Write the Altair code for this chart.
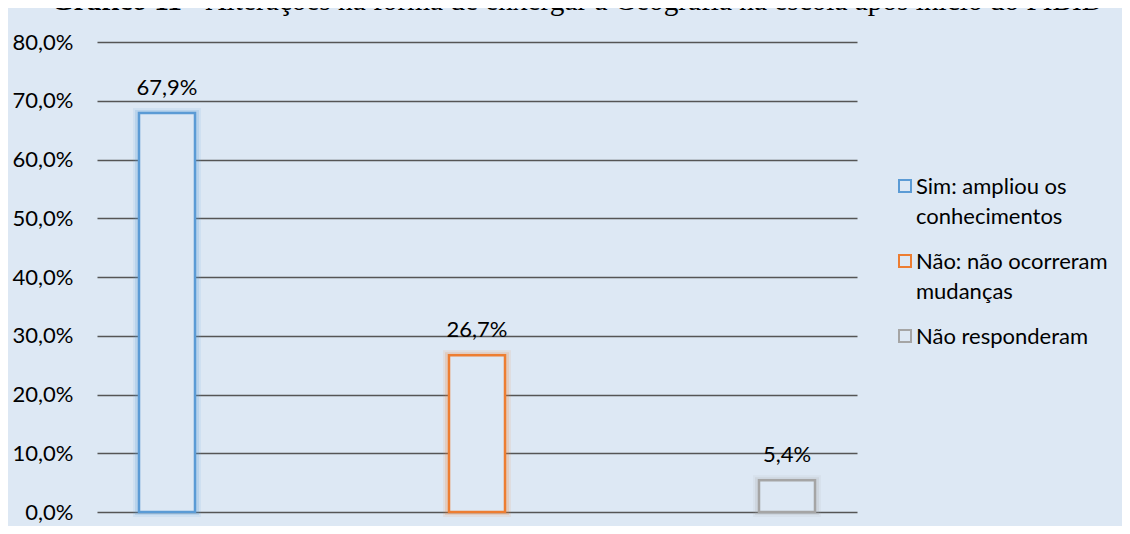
import altair as alt
import pandas as pd

categories = ["Sim: ampliou os conhecimentos", "Não: não ocorreram mudanças", "Não responderam"]
values = [67.9, 26.7, 5.4]
value_labels = ["67,9%", "26,7%", "5,4%"]
colors = ["#5b9bd5", "#ed7d31", "#a5a5a5"]
legend_lines = [["Sim: ampliou os", "conhecimentos"], ["Não: não ocorreram", "mudanças"], ["Não responderam"]]
y_ticks = [0, 10, 20, 30, 40, 50, 60, 70, 80]
title_bold = "Gráfico 11"
title_rest = "- Alterações na forma de enxergar a Geografia na escola após início do PIBID"

bg = "#dde8f4"
font = "Lato"
fs = 22
title_font = "Liberation Serif"
title_fs = 29.3

df = pd.DataFrame({"categoria": categories, "valor": values, "rotulo": value_labels})

# legend label wrapping expression built from legend_lines
expr = "datum.label"
for cat, lines in reversed(list(zip(categories, legend_lines))):
    arr = "[" + ",".join("'" + l + "'" for l in lines) + "]"
    expr = f"datum.label == '{cat}' ? {arr} : ({expr})"

x = alt.X("categoria:N", sort=categories,
          scale=alt.Scale(type="point", padding=0.2258), axis=None)
y = alt.Y("valor:Q", scale=alt.Scale(domain=[0, 80]),
          axis=alt.Axis(values=y_ticks,
                        labelExpr="replace(format(datum.value, '.1f'), '.', ',') + '%'",
                        title=None, domain=False, ticks=False, grid=True,
                        gridColor="#555555", gridWidth=1.5,
                        labelFont=font, labelFontSize=fs, labelColor="#000000",
                        labelPadding=24))
stroke = alt.Stroke("categoria:N", sort=categories,
                    scale=alt.Scale(domain=categories, range=colors),
                    legend=alt.Legend(title=None, orient="none", legendX=797, legendY=124,
                                      symbolType="M-1,0.5L1,0.5L1,2.5L-1,2.5Z", symbolSize=144,
                                      symbolStrokeWidth=2, symbolFillColor=bg,
                                      labelFont=font, labelFontSize=fs, labelColor="#000000",
                                      labelLimit=400, labelBaseline="top", labelOffset=0,
                                      labelExpr=expr, rowPadding=13))

base = alt.Chart(df)

glow_outer = base.mark_bar(size=58, filled=False, strokeWidth=10, strokeOpacity=0.10).encode(
    x=x, y=y, stroke=stroke)
glow_inner = base.mark_bar(size=58, filled=False, strokeWidth=6, strokeOpacity=0.18).encode(
    x=x, y=y, stroke=stroke)
bars = base.mark_bar(size=56, fill=bg, strokeWidth=2.5).encode(x=x, y=y, stroke=stroke)
labels = base.mark_text(dy=-25, baseline="middle", font=font, fontSize=fs, color="#000000").encode(
    x=x, y=y, text="rotulo:N")

title_df = pd.DataFrame({"t1": [title_bold], "t2": [title_rest]})
title1 = alt.Chart(title_df).mark_text(align="right", baseline="alphabetic", font=title_font,
                                       fontSize=title_fs, fontWeight="bold", color="#000000").encode(
    x=alt.value(85), y=alt.value(-32), text="t1:N")
title2 = alt.Chart(title_df).mark_text(align="left", baseline="alphabetic", font=title_font,
                                       fontSize=title_fs, fontWeight="normal", color="#000000").encode(
    x=alt.value(93), y=alt.value(-32), text="t2:N")

chart = alt.layer(glow_outer, glow_inner, bars, labels, title1, title2).properties(
    width=760, height=470,
    autosize=alt.AutoSizeParams(type="none"),
    padding={"left": 89, "top": 34, "right": 265, "bottom": 14},
).configure(background=bg, style={"guide-label": {"lineHeight": 30}}).configure_view(strokeWidth=0)

chart.save("out.html", embed_options={"renderer": "svg", "actions": False})
